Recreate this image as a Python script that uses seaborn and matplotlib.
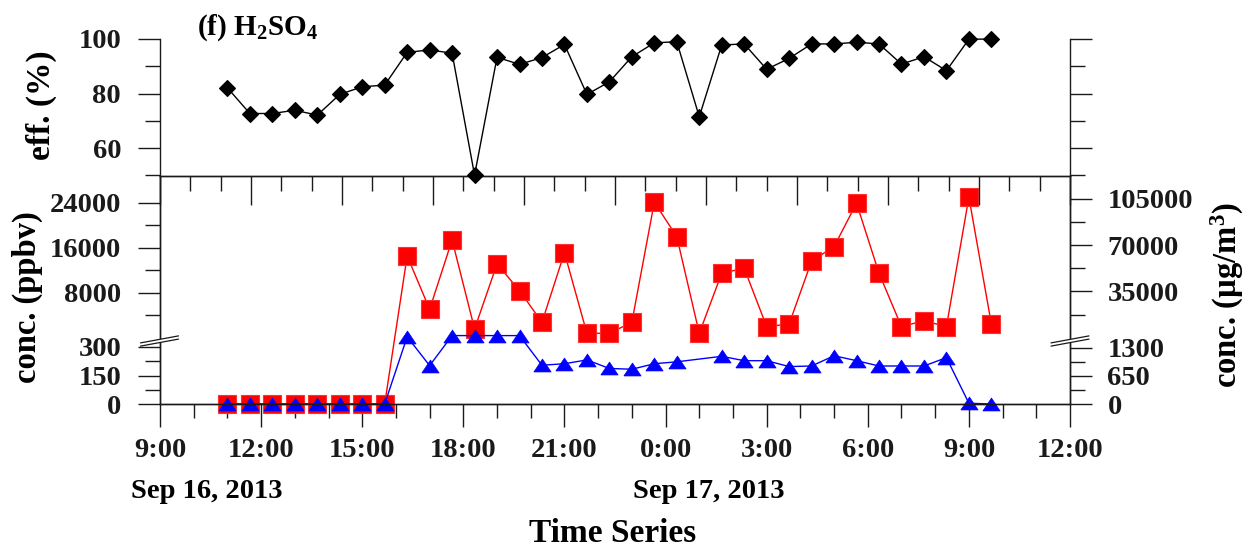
import numpy as np
import pandas as pd
import matplotlib
matplotlib.use("Agg")
import matplotlib.pyplot as plt
import seaborn as sns
from matplotlib.lines import Line2D
from matplotlib.patches import Polygon
from matplotlib.ticker import FixedLocator, NullFormatter

# ---------------- data ----------------
times = [
    "2013-09-16 11:00", "2013-09-16 11:40", "2013-09-16 12:20", "2013-09-16 13:00",
    "2013-09-16 13:40", "2013-09-16 14:20", "2013-09-16 15:00", "2013-09-16 15:40",
    "2013-09-16 16:20", "2013-09-16 17:00", "2013-09-16 17:40", "2013-09-16 18:20",
    "2013-09-16 19:00", "2013-09-16 19:40", "2013-09-16 20:20", "2013-09-16 21:00",
    "2013-09-16 21:40", "2013-09-16 22:20", "2013-09-16 23:00", "2013-09-16 23:40",
    "2013-09-17 00:20", "2013-09-17 01:00", "2013-09-17 01:40", "2013-09-17 02:20",
    "2013-09-17 03:00", "2013-09-17 03:40", "2013-09-17 04:20", "2013-09-17 05:00",
    "2013-09-17 05:40", "2013-09-17 06:20", "2013-09-17 07:00", "2013-09-17 07:40",
    "2013-09-17 08:20", "2013-09-17 09:00", "2013-09-17 09:40",
]
eff = [82.1, 72.7, 72.7, 73.9, 72.1, 79.7, 82.5, 83.1, 95.1, 96.0, 94.8, 50.1,
       93.3, 90.7, 93.2, 98.0, 79.7, 84.3, 93.5, 98.6, 99.0, 71.5, 97.8, 98.2,
       88.9, 92.9, 98.2, 98.2, 98.8, 98.2, 90.8, 93.5, 88.4, 99.9, 100.0]
conc_red = [0, 0, 0, 0, 0, 0, 0, 0,
            14550, 5050, 17400, 1540, 13130, 8370, 2730, 15140, 770, 770,
            2730, 24130, 17990, 770, 11470, 12360, 1950, 2430, 13660, 16210,
            23950, 11470, 1950, 3020, 1950, 25020, 2430]
conc_blue = [0, 0, 0, 0, 0, 0, 0, 0,
             354, 202, 360, 363, 360, 360, 204, 212, 232, 187, 183, 212, 222,
             np.nan, 251, 228, 228, 197, 200, 254, 228, 200, 200, 200, 244, 4, 0]
hour_ticks = [9, 12, 15, 18, 21, 24, 27, 30, 33, 36]
hour_labels = ["9:00", "12:00", "15:00", "18:00", "21:00", "0:00", "3:00", "6:00", "9:00", "12:00"]
date_labels = ["Sep 16, 2013", "Sep 17, 2013"]
eff_ticks = [60, 80, 100]
ppbv_ticks = [0, 150, 300, 8000, 16000, 24000]
ugm3_ticks = [0, 650, 1300, 35000, 70000, 105000]

# ---------------- style ----------------
sns.set_theme(style="ticks")
plt.rcParams["font.family"] = ["Liberation Serif", "DejaVu Serif"]
plt.rcParams["font.weight"] = "bold"
plt.rcParams["mathtext.fontset"] = "custom"
plt.rcParams["mathtext.rm"] = "Liberation Serif:bold"
plt.rcParams["mathtext.bf"] = "Liberation Serif:bold"
plt.rcParams["mathtext.it"] = "Liberation Serif:bold:italic"
INK = "#1a1a1a"
plt.rcParams["axes.edgecolor"] = INK
plt.rcParams["xtick.color"] = INK
plt.rcParams["ytick.color"] = INK
plt.rcParams["text.color"] = "black"

t = pd.to_datetime(pd.Series(times))
hours = (t - pd.Timestamp("2013-09-16")).dt.total_seconds() / 3600.0
df = pd.DataFrame({"hours": hours, "eff": eff, "red": conc_red, "blue": conc_blue})
dfb = df.dropna(subset=["blue"])

W, H = 1254, 548
fig = plt.figure(figsize=(W / 100, H / 100), dpi=100)


def fx(px):
    return px / W


def fy(py):
    return 1 - py / H


ax_bot = fig.add_axes([fx(160), fy(404), 910 / W, 228 / H])
ax_r = ax_bot.twinx()
ax_top = fig.add_axes([fx(160), fy(176), 910 / W, 137 / H])
for a in (ax_bot, ax_r, ax_top):
    a.set_facecolor("none")


def make_scale(L, P, T, Hpx):
    def fwd(v):
        v = np.asarray(v, dtype=float)
        return np.where(v <= L, v / L * P, P + (v - L) / (T - L) * (Hpx - P))

    def inv(p):
        p = np.asarray(p, dtype=float)
        return np.where(p <= P, p / P * L, L + (p - P) / (Hpx - P) * (T - L))

    return fwd, inv


ax_bot.set_yscale("function", functions=make_scale(360, 68.4, 28800, 228))
ax_r.set_yscale("function", functions=make_scale(1584, 68.4, 122400, 228))

# ---------------- plots ----------------
sns.lineplot(data=df, x="hours", y="red", ax=ax_bot, color="#FF0000", lw=1.0,
             marker="s", markersize=12.4, markerfacecolor="#FF0000",
             markeredgecolor="#FF3030", markeredgewidth=0.8,
             estimator=None, sort=False, legend=False, clip_on=False, zorder=3)
tri = [(-1, -0.75), (1, -0.75), (0, 0.75), (-1, -0.75)]
sns.lineplot(data=dfb, x="hours", y="blue", ax=ax_bot, color="#0000FF", lw=1.0,
             marker=tri, markersize=12.4, markerfacecolor="#0000FF",
             markeredgecolor="#0000FF", markeredgewidth=0.5,
             estimator=None, sort=False, legend=False, clip_on=False, zorder=4)
sns.lineplot(data=df, x="hours", y="eff", ax=ax_top, color="black", lw=1.0,
             marker="D", markersize=8.0, markerfacecolor="black",
             markeredgecolor="black", markeredgewidth=0.8,
             estimator=None, sort=False, legend=False, clip_on=False, zorder=3)

# ---------------- top panel axes ----------------
ax_top.set_xlim(9, 36)
ax_top.set_ylim(49.8, 100)
ax_top.spines["top"].set_visible(False)
ax_top.spines["bottom"].set_visible(False)
for s in ("left", "right"):
    ax_top.spines[s].set_linewidth(1.0)
ax_top.xaxis.set_major_locator(FixedLocator([9 + 2.7 * k for k in range(11)]))
ax_top.xaxis.set_minor_locator(FixedLocator([9 + 0.9 * k for k in range(31)]))
ax_top.xaxis.set_major_formatter(NullFormatter())
ax_top.tick_params(axis="x", which="major", direction="out", length=21, width=1.0,
                   labelbottom=False)
ax_top.tick_params(axis="x", which="minor", direction="out", length=10.8, width=1.0)
ax_top.set_yticks(eff_ticks)
ax_top.yaxis.set_minor_locator(FixedLocator([50, 70, 90]))
ax_top.tick_params(axis="y", which="both", direction="out", left=True, right=True,
                   labelleft=True, labelright=False, width=1.0)
ax_top.tick_params(axis="y", which="major", length=16, labelsize=20.5, pad=12)
ax_top.tick_params(axis="y", which="minor", length=10.8)
ax_top.set_xlabel("")
ax_top.set_ylabel("")

# ---------------- bottom panel axes ----------------
ax_bot.set_xlim(9, 36)
ax_bot.set_ylim(0, 28800)
ax_r.set_ylim(0, 122400)
for a in (ax_bot, ax_r):
    for s in a.spines.values():
        s.set_linewidth(1.0)
ax_bot.set_xticks(hour_ticks)
ax_bot.set_xticklabels(hour_labels)
ax_bot.xaxis.set_minor_locator(FixedLocator(list(range(9, 37))))
ax_bot.tick_params(axis="x", which="major", direction="out", length=16.5, width=1.0,
                   labelsize=20.5, pad=8)
ax_bot.tick_params(axis="x", which="minor", direction="out", length=10, width=1.0)
ax_bot.set_yticks(ppbv_ticks)
ax_bot.set_yticklabels([str(v) for v in ppbv_ticks])
ax_bot.yaxis.set_minor_locator(FixedLocator([75, 225, 4000, 12000, 20000]))
ax_bot.yaxis.set_minor_formatter(NullFormatter())
ax_bot.tick_params(axis="y", which="major", direction="out", length=16, width=1.0,
                   labelsize=20.5, pad=12)
ax_bot.tick_params(axis="y", which="minor", direction="out", length=10.8, width=1.0)
ax_bot.set_xlabel("")
ax_bot.set_ylabel("")

ax_r.set_yticks(ugm3_ticks)
ax_r.set_yticklabels([str(v) for v in ugm3_ticks])
ax_r.yaxis.set_minor_locator(FixedLocator([325, 975, 17500, 52500, 87500]))
ax_r.yaxis.set_minor_formatter(NullFormatter())
ax_r.tick_params(axis="y", which="major", direction="out", length=16, width=1.0,
                 labelsize=20.5, pad=11)
ax_r.tick_params(axis="y", which="minor", direction="out", length=10.8, width=1.0)
ax_r.set_ylabel("")


# ---------------- axis break marks ----------------
def break_mark(cx, cy):
    dx, dy, gap = 19, 3.5, 1.6
    poly = Polygon([(fx(cx - dx), fy(cy + dy - gap)), (fx(cx + dx), fy(cy - dy - gap)),
                    (fx(cx + dx), fy(cy - dy + gap)), (fx(cx - dx), fy(cy + dy + gap))],
                   closed=True, transform=fig.transFigure, facecolor="white",
                   edgecolor="none", zorder=10)
    fig.add_artist(poly)
    for off in (-gap, gap):
        fig.add_artist(Line2D([fx(cx - dx), fx(cx + dx)],
                              [fy(cy + dy + off), fy(cy - dy + off)],
                              transform=fig.transFigure, color=INK, lw=0.9, zorder=11))


break_mark(159.5, 341)
break_mark(1070, 341)

# ---------------- texts ----------------
fig.text(fx(197), fy(35), r"(f) H$_\mathbf{2}$SO$_\mathbf{4}$", fontsize=21,
         ha="left", va="baseline", fontweight="bold")
fig.text(fx(41), fy(105), "eff. (%)", rotation=90, ha="center", va="center",
         fontsize=24, fontweight="bold")
fig.text(fx(27), fy(297), "conc. (ppbv)", rotation=90, ha="center", va="center",
         fontsize=23.5, fontweight="bold")
fig.text(fx(1227), fy(295), r"conc. (µg/m$^\mathbf{3}$)", rotation=90, ha="center",
         va="center", fontsize=23.5, fontweight="bold")
fig.text(fx(131), fy(491), date_labels[0], ha="left", va="center", fontsize=20.5,
         fontweight="bold")
fig.text(fx(633), fy(491), date_labels[1], ha="left", va="center", fontsize=20.5,
         fontweight="bold")
fig.text(fx(613), fy(533), "Time Series", ha="center", va="center", fontsize=24,
         fontweight="bold")

fig.savefig("out.png", dpi=100, facecolor="white")
